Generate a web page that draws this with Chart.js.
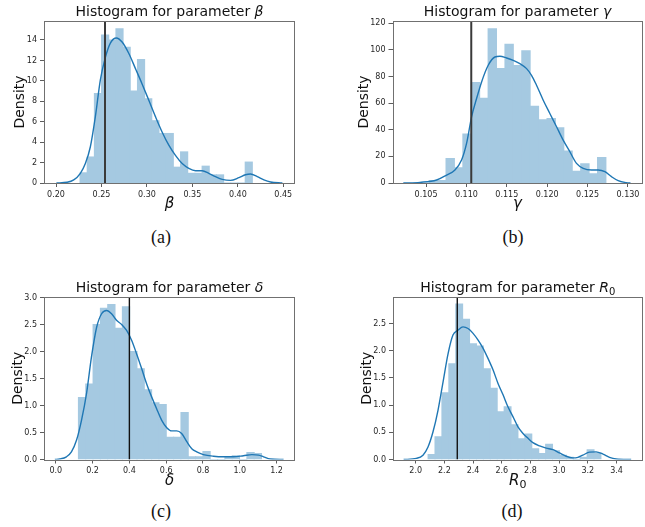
<!DOCTYPE html>
<html>
<head>
<meta charset="utf-8">
<script src="https://cdn.jsdelivr.net/npm/chart.js@4/dist/chart.umd.min.js"></script>
<style>
  body { margin: 0; background: #fff; width: 645px; height: 527px; position: relative; overflow: hidden; }
  canvas { position: absolute; }
  .cap { position: absolute; font-family: "Liberation Serif", serif; font-size: 18px; color: #111; transform: translate(-50%, -50%); }
</style>
</head>
<body>
<canvas id="cBeta" width="320" height="225" style="left:0;top:0"></canvas>
<canvas id="cGamma" width="325" height="225" style="left:320px;top:0"></canvas>
<canvas id="cDelta" width="320" height="225" style="left:0;top:270px"></canvas>
<canvas id="cR0" width="325" height="225" style="left:320px;top:270px"></canvas>
<div class="cap" style="left:161px;top:237px">(a)</div>
<div class="cap" style="left:513px;top:237px">(b)</div>
<div class="cap" style="left:161px;top:511px">(c)</div>
<div class="cap" style="left:512px;top:511px">(d)</div>
<script>
// ---- beta ----
const betaTitle = [['Histogram for parameter ', 'n'], ['β', 'i']];
const betaLabel = [['β', 'i']];
const betaBinStart = 0.2264;
const betaBinWidth = 0.0079;
const betaDensity = [1.0, 2.55, 8.75, 14.5, 14.0, 15.1, 13.3, 9.0, 12.1, 8.25, 6.1, 4.85,
                     4.85, 1.55, 3.05, 0.95, 0.95, 1.65, 0.8, 0.8, 0, 0, 0, 2.05];
const betaKdeX = [0.2005, 0.2121, 0.2195, 0.2268, 0.2323, 0.2378, 0.2433, 0.2488, 0.2543, 0.2598,
                  0.2664, 0.2727, 0.2800, 0.2874, 0.2947, 0.3021, 0.3094, 0.3167, 0.3241, 0.3314,
                  0.3388, 0.3461, 0.3535, 0.3608, 0.3681, 0.3755, 0.3828, 0.3920, 0.4012, 0.4085,
                  0.4140, 0.4214, 0.4287, 0.4361, 0.4490];
const betaKdeY = [0, 0.07, 0.3, 0.95, 1.9, 3.55, 6.5, 10.1, 12.3, 13.7,
                  14.2, 13.8, 12.7, 11.2, 9.7, 8.1, 6.5, 5.0, 3.7, 2.7,
                  1.9, 1.43, 1.2, 1.2, 0.95, 0.62, 0.36, 0.26, 0.52, 0.81,
                  0.88, 0.62, 0.3, 0.1, 0];
const betaMark = 0.2539;
const betaTicksX = [0.20, 0.25, 0.30, 0.35, 0.40, 0.45];
const betaTicksY = [0, 2, 4, 6, 8, 10, 12, 14];

// ---- gamma ----
const gammaTitle = [['Histogram for parameter ', 'n'], ['γ', 'i']];
const gammaLabel = [['γ', 'i']];
const gammaBinStart = 0.10539;
const gammaBinWidth = 0.001042;
const gammaDensity = [1.9, 1.9, 18.5, 11.5, 36.75, 75.5, 63.75, 116, 86, 104.25, 88.25,
                      99.5, 57.75, 47.5, 48.5, 41.5, 24, 8.75, 14.5, 7, 19.25];
const gammaKdeX = [0.10219, 0.10425, 0.10631, 0.10755, 0.10858, 0.10940, 0.11002, 0.11064, 0.11126, 0.11188,
                   0.11270, 0.11353, 0.11415, 0.11497, 0.11580, 0.11662, 0.11745, 0.11806, 0.11868, 0.11951,
                   0.12033, 0.12116, 0.12198, 0.12281, 0.12363, 0.12446, 0.12549, 0.12631, 0.12714, 0.12796,
                   0.12879, 0.12982, 0.13031];
const gammaKdeY = [0, 0.5, 2.25, 6, 9.75, 17.25, 29.75, 49.75, 63.5, 76,
                   88.5, 94.75, 95.25, 94, 92.25, 89.75, 86, 81, 73.5, 62.25,
                   52.25, 42.25, 32.25, 23.5, 14.75, 11, 9.75, 9.75, 8.5, 4.75,
                   1.75, 0.25, 0];
const gammaMark = 0.1106;
const gammaTicksX = [0.105, 0.110, 0.115, 0.120, 0.125, 0.130];
const gammaTicksY = [0, 20, 40, 60, 80, 100, 120];

// ---- delta ----
const deltaTitle = [['Histogram for parameter ', 'n'], ['δ', 'i']];
const deltaLabel = [['δ', 'i']];
const deltaBinStart = 0.123;
const deltaBinWidth = 0.0398;
const deltaDensity = [1.15, 1.4, 2.5, 2.8, 2.87, 2.43, 2.83, 2.0, 1.68, 1.29, 1.05, 1.02, 0.41,
                      0.41, 0.87, 0.05, 0.05, 0.15, 0, 0, 0.05, 0.07, 0, 0.13, 0.11];
const deltaKdeX = [-0.005, 0.022, 0.058, 0.085, 0.113, 0.140, 0.167, 0.194, 0.222, 0.249,
                   0.276, 0.303, 0.330, 0.358, 0.385, 0.412, 0.439, 0.467, 0.494, 0.521,
                   0.548, 0.575, 0.603, 0.630, 0.657, 0.684, 0.712, 0.739, 0.766, 0.802,
                   0.857, 0.911, 0.966, 1.020, 1.066, 1.102, 1.129, 1.165, 1.238];
const deltaKdeY = [0, 0.01, 0.05, 0.14, 0.36, 0.73, 1.22, 1.90, 2.45, 2.70,
                   2.76, 2.70, 2.58, 2.50, 2.39, 2.21, 1.96, 1.68, 1.40, 1.16,
                   0.94, 0.73, 0.59, 0.53, 0.53, 0.48, 0.33, 0.20, 0.14, 0.09,
                   0.06, 0.05, 0.05, 0.07, 0.09, 0.08, 0.05, 0.01, 0];
const deltaMark = 0.4;
const deltaTicksX = [0.0, 0.2, 0.4, 0.6, 0.8, 1.0, 1.2];
const deltaTicksY = [0.0, 0.5, 1.0, 1.5, 2.0, 2.5, 3.0];

// ---- R0 ----
const r0Title = [['Histogram for parameter ', 'n'], ['R', 'i'], ['0', 's']];
const r0Label = [['R', 'i'], ['0', 's']];
const r0BinStart = 2.0864;
const r0BinWidth = 0.0482;
const r0Density = [0.09, 0.42, 1.23, 1.76, 2.86, 2.58, 2.13, 2.09, 1.67, 1.31, 0.88, 0.97, 0.64,
                   0.38, 0.47, 0.2, 0.11, 0.28, 0.16, 0.08, 0.04, 0, 0.04, 0.18, 0.12];
const r0KdeX = [1.916, 2.005, 2.051, 2.086, 2.121, 2.156, 2.191, 2.226, 2.260, 2.295,
                2.330, 2.365, 2.400, 2.434, 2.469, 2.504, 2.539, 2.574, 2.609, 2.643,
                2.678, 2.713, 2.748, 2.783, 2.817, 2.864, 2.910, 2.957, 3.003, 3.049,
                3.096, 3.131, 3.165, 3.212, 3.258, 3.305, 3.351, 3.397, 3.502];
const r0KdeY = [0, 0.02, 0.08, 0.23, 0.51, 0.91, 1.43, 1.95, 2.29, 2.38,
                2.44, 2.41, 2.32, 2.20, 2.05, 1.86, 1.65, 1.40, 1.19, 0.97,
                0.79, 0.60, 0.48, 0.39, 0.31, 0.25, 0.21, 0.18, 0.12, 0.06,
                0.03, 0.04, 0.08, 0.135, 0.14, 0.10, 0.04, 0.01, 0];
const r0Mark = 2.29;
const r0TicksX = [2.0, 2.2, 2.4, 2.6, 2.8, 3.0, 3.2, 3.4];
const r0TicksY = [0.0, 0.5, 1.0, 1.5, 2.0, 2.5];

Chart.defaults.font.family = '"DejaVu Sans"';

function drawRich(ctx, parts, cx, y, size) {
  const fonts = parts.map(p => p[1] === 'i' ? `italic ${size}px "DejaVu Sans"`
                              : p[1] === 's' ? `${Math.round(size * 0.7)}px "DejaVu Sans"`
                              : `${size}px "DejaVu Sans"`);
  let w = 0;
  parts.forEach((p, k) => { ctx.font = fonts[k]; w += ctx.measureText(p[0]).width; });
  let x = cx - w / 2;
  ctx.textAlign = 'left';
  ctx.textBaseline = 'alphabetic';
  parts.forEach((p, k) => {
    ctx.font = fonts[k];
    ctx.fillText(p[0], x, p[1] === 's' ? y + size * 0.22 : y);
    x += ctx.measureText(p[0]).width;
  });
}

const frameText = {
  id: 'frameText',
  afterDraw(chart, args, o) {
    const ctx = chart.ctx;
    const a = chart.chartArea;
    ctx.save();
    ctx.strokeStyle = '#707070';
    ctx.lineWidth = 1;
    ctx.strokeRect(Math.round(a.left) + 0.5, Math.round(a.top) + 0.5,
                   Math.round(a.right) - Math.round(a.left) - 1, Math.round(a.bottom) - Math.round(a.top));
    ctx.fillStyle = '#111';
    drawRich(ctx, o.title, (a.left + a.right) / 2, a.top - 5, 14);
    drawRich(ctx, o.xlabel, (a.left + a.right) / 2, a.bottom + 25, 15);
    ctx.translate(a.left - o.yOff, (a.top + a.bottom) / 2);
    ctx.rotate(-Math.PI / 2);
    drawRich(ctx, [['Density', 'n']], 0, 0, 14);
    ctx.restore();
  }
};

function makePanel(id, d) {
  const hist = d.density.map((h, i) => ({ x: d.binStart + (i + 0.5) * d.binWidth, y: h }));
  const kde = d.kdeX.map((x, i) => ({ x: x, y: d.kdeY[i] }));
  new Chart(document.getElementById(id), {
    type: 'bar',
    data: {
      datasets: [
        { type: 'line', data: [{ x: d.mark, y: 0 }, { x: d.mark, y: d.yMax }],
          borderColor: d.markColor, borderWidth: d.markWidth, pointRadius: 0 },
        { type: 'line', data: kde, borderColor: '#1f77b4', borderWidth: 1.4,
          pointRadius: 0, cubicInterpolationMode: 'monotone', fill: false },
        // alpha 0.4 of #1f77b4 over white, drawn opaque so adjacent bins have no seams
        { type: 'bar', data: hist, backgroundColor: 'rgb(165,201,225)', borderWidth: 0,
          inflateAmount: 0.5, barPercentage: 1, categoryPercentage: 1, grouped: false }
      ]
    },
    options: {
      responsive: false,
      animation: false,
      events: [],
      layout: { padding: d.pad },
      plugins: {
        legend: { display: false },
        tooltip: { enabled: false },
        frameText: { title: d.title, xlabel: d.xlabel, yOff: d.yOff }
      },
      scales: {
        x: {
          type: 'linear', min: d.xMin, max: d.xMax, offset: false,
          grid: { offset: false, drawOnChartArea: false, drawTicks: true, tickLength: 4, color: '#333', lineWidth: 0.8 },
          border: { display: false },
          afterBuildTicks: s => { s.ticks = d.ticksX.map(v => ({ value: v })); },
          afterFit: s => { s.height = 20; },
          ticks: { autoSkip: false, maxRotation: 0, padding: 3, color: '#262626', font: { size: 8 },
                   callback: v => v.toFixed(d.xDec) }
        },
        y: {
          min: 0, max: d.yMax,
          grid: { drawOnChartArea: false, drawTicks: true, tickLength: 4, color: '#333', lineWidth: 0.8 },
          border: { display: false },
          afterBuildTicks: s => { s.ticks = d.ticksY.map(v => ({ value: v })); },
          afterFit: s => { s.width = d.yWidth; },
          ticks: { autoSkip: false, padding: 3, color: '#262626', font: { size: 8 },
                   callback: v => v.toFixed(d.yDec) }
        }
      }
    },
    plugins: [frameText]
  });
}

makePanel('cBeta', {
  title: betaTitle, xlabel: betaLabel, binStart: betaBinStart, binWidth: betaBinWidth,
  density: betaDensity, kdeX: betaKdeX, kdeY: betaKdeY, mark: betaMark,
  ticksX: betaTicksX, ticksY: betaTicksY, xMin: 0.1868, xMax: 0.4629, yMax: 15.86,
  xDec: 2, yDec: 0, markColor: '#3a3a3a', markWidth: 2,
  pad: { left: 0, top: 21, right: 25, bottom: 22 }, yWidth: 44, yOff: 20
});
makePanel('cGamma', {
  title: gammaTitle, xlabel: gammaLabel, binStart: gammaBinStart, binWidth: gammaBinWidth,
  density: gammaDensity, kdeX: gammaKdeX, kdeY: gammaKdeY, mark: gammaMark,
  ticksX: gammaTicksX, ticksY: gammaTicksY, xMin: 0.10085, xMax: 0.1318, yMax: 121.8,
  xDec: 3, yDec: 0, markColor: '#3a3a3a', markWidth: 2,
  pad: { left: 0, top: 21, right: 2.5, bottom: 22 }, yWidth: 72.5, yOff: 25
});
makePanel('cDelta', {
  title: deltaTitle, xlabel: deltaLabel, binStart: deltaBinStart, binWidth: deltaBinWidth,
  density: deltaDensity, kdeX: deltaKdeX, kdeY: deltaKdeY, mark: deltaMark,
  ticksX: deltaTicksX, ticksY: deltaTicksY, xMin: -0.064, xMax: 1.300, yMax: 3.01,
  xDec: 1, yDec: 1, markColor: '#111', markWidth: 1.4,
  pad: { left: 0, top: 27, right: 25, bottom: 15.5 }, yWidth: 44, yOff: 22
});
makePanel('cR0', {
  title: r0Title, xlabel: r0Label, binStart: r0BinStart, binWidth: r0BinWidth,
  density: r0Density, kdeX: r0KdeX, kdeY: r0KdeY, mark: r0Mark,
  ticksX: r0TicksX, ticksY: r0TicksY, xMin: 1.842, xMax: 3.581, yMax: 2.99,
  xDec: 1, yDec: 1, markColor: '#111', markWidth: 1.4,
  pad: { left: 0, top: 27, right: 2.5, bottom: 15.5 }, yWidth: 73, yOff: 22
});
</script>
</body>
</html>
